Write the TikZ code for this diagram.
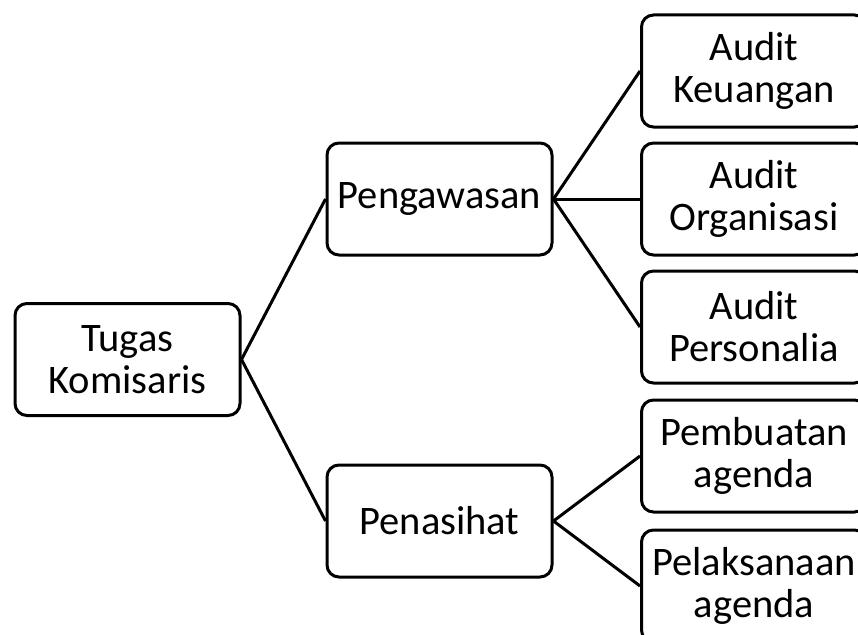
\documentclass[tikz,border=0pt]{standalone}
\usepackage{fontspec}
\setmainfont{Carlito}
\begin{document}
\begin{tikzpicture}[x=1pt,y=-1pt,
  box/.style={draw=black, line width=3pt, rounded corners=12pt, fill=white,
    minimum width=225pt, minimum height=112pt, inner sep=0pt, align=center,
    font=\fontsize{40.5pt}{42pt}\selectfont},
  link/.style={draw=black, line width=3pt}]
\useasboundingbox (0,0) rectangle (858,634);
\clip (0,0) rectangle (858,634);
\node[box] (tugas) at (127.5,359.5) {Tugas\\Komisaris};
\node[box] (peng) at (439.5,199) {Pengawasan};
\node[box] (pena) at (439.5,521) {Penasihat};
\node[box] (ak) at (754,71) {Audit\\Keuangan};
\node[box] (ao) at (754,199) {Audit\\Organisasi};
\node[box] (ap) at (754,327) {Audit\\Personalia};
\node[box] (pb) at (754,456) {Pembuatan\\agenda};
\node[box] (pl) at (754,586) {Pelaksanaan\\agenda};
\draw[link] (tugas.east) -- (peng.west);
\draw[link] (tugas.east) -- (pena.west);
\draw[link] (peng.east) -- (ak.west);
\draw[link] (peng.east) -- (ao.west);
\draw[link] (peng.east) -- (ap.west);
\draw[link] (pena.east) -- (pb.west);
\draw[link] (pena.east) -- (pl.west);
\end{tikzpicture}
\end{document}
